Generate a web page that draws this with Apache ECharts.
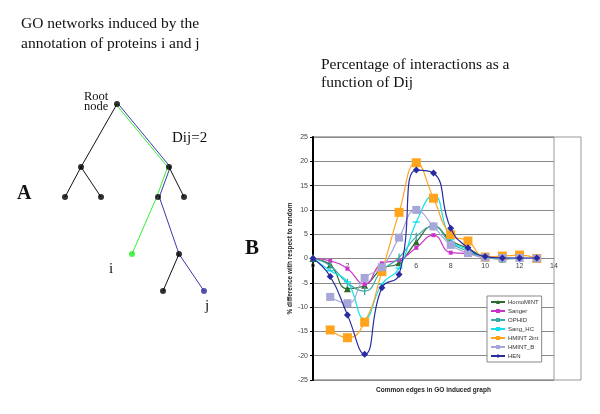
<!DOCTYPE html>
<html><head><meta charset="utf-8">
<script src="https://cdn.jsdelivr.net/npm/echarts@6/dist/echarts.min.js"></script>
<style>html,body{margin:0;padding:0;background:#fff}#c{width:600px;height:414px}</style>
</head><body><div id="c"></div>
<script>
// ---- chart B data ----
var xValues = [0,1,2,3,4,5,6,7,8,9,10,11,12,13];
var seriesNames = ['HomoMINT','Sanger','OPHID','Sang_HC','HMINT 2int','HMINT_B','HEN'];
var homoMINT  = [0,-1.3,-6.2,-5.5,-2.1,-0.9,3.4,6.7,3.7,2.1,0.3,-0.1,0,0];
var sanger    = [0,-0.5,-2.1,-5.3,-1.0,-0.3,2.2,4.8,1.2,1.0,0.2,0,0,0];
var ophid     = [0,-1.5,-5.0,-6.7,-2.5,0.2,4.5,6.6,3.2,1.5,0.2,0,0,0];
var sangHC    = [0,-2.5,-4.8,-12.4,-5.3,-2.0,7.5,13.0,4.0,1.8,0.3,0,0,0];
var hmint2int = [null,-14.7,-16.3,-13.1,-2.7,9.5,19.7,12.4,4.9,3.6,0.3,0.5,0.7,0];
var hmintB    = [null,-7.9,-9.2,-4.0,-1.8,4.3,10.0,6.6,2.8,1.1,0.2,0.1,0.1,0];
var hen       = [0,-3.7,-11.6,-19.7,-6.0,-3.3,18.2,17.6,6.2,2.2,0.4,0.1,0.1,0.1];
var xTicks = {min:0, max:14, interval:2};
var yTicks = {min:-25, max:25, interval:5};

// ---- panel A tree data (layout units) ----
var treeNodes = {
  root:[117,104], L:[81,167], LL:[65,197], LR:[101,197],
  R:[169,167], RL:[158,197], RR:[184,197],
  I:[132,254], RLR:[179,254], RLRL:[163,291], J:[204,291]
};
var blackEdges = [['root','L'],['L','LL'],['L','LR'],['R','RR'],['RLR','RLRL']];
var greenPath = ['root','R','RL','I'];
var bluePath  = ['root','R','RL','RLR','J'];
var sharedNodes = ['root','R','RL'];

var chart = echarts.init(document.getElementById('c'), null, {renderer:'canvas'});

function pairs(vals){ return xValues.map(function(x,i){ return vals[i]==null ? [x,'-'] : [x, vals[i]]; }); }
var serif = 'Liberation Serif';
var sans = 'Liberation Sans';

var styles = [
  {c:'#2f6b2f', sym:'triangle', sz:7},
  {c:'#cc33cc', sym:'rect', sz:4},
  {c:'#3aaaa4', sym:'rect', sz:[1.3,8]},
  {c:'#10e0ee', sym:'rect', sz:[7,1.4]},
  {c:'#ffa41c', sym:'rect', sz:9},
  {c:'#a6a6d8', sym:'rect', sz:8},
  {c:'#2a2aa0', sym:'diamond', sz:7}
];
var dataSets = [homoMINT, sanger, ophid, sangHC, hmint2int, hmintB, hen];

var series = [];
dataSets.forEach(function(d, k){
  series.push({
    name: seriesNames[k], type:'line', xAxisIndex:1, yAxisIndex:1,
    data: pairs(d), smooth:0.5, connectNulls:false,
    symbol: styles[k].sym, symbolSize: styles[k].sz, showSymbol:true,
    lineStyle:{color:styles[k].c, width:1.2}, itemStyle:{color:styles[k].c},
    z: 3 + k, animation:false
  });
});

// tree
function pt(n, off){ var p = treeNodes[n]; var o = (off && sharedNodes.indexOf(n)>=0) ? off : 0; return [p[0]+o, p[1]]; }
blackEdges.forEach(function(e){
  series.push({type:'line', xAxisIndex:0, yAxisIndex:0, data:[pt(e[0]), pt(e[1])], showSymbol:false, symbol:'none',
    lineStyle:{color:'#111', width:1}, animation:false, silent:true});
});
series.push({type:'line', xAxisIndex:0, yAxisIndex:0, data:greenPath.map(function(n){return pt(n,-1.3);}), symbol:'none',
  lineStyle:{color:'#33ee33', width:1}, animation:false, silent:true});
series.push({type:'line', xAxisIndex:0, yAxisIndex:0, data:bluePath.map(function(n){return pt(n,1.3);}), symbol:'none',
  lineStyle:{color:'#3a3aa8', width:1}, animation:false, silent:true});
var nodeData = Object.keys(treeNodes).map(function(n){
  var col = n==='I' ? '#22ee22' : (n==='J' ? '#2c2c99' : '#000');
  return {value: treeNodes[n], itemStyle:{color:col}};
});
series.push({type:'scatter', xAxisIndex:0, yAxisIndex:0, data:nodeData, symbolSize:6, animation:false, silent:true, z:10});

var option = {
  backgroundColor:'#fff',
  animation:false,
  grid:[
    {left:0, top:0, width:600, height:414, show:false},
    {left:313, top:137, width:241, height:243, show:true, borderColor:'#999', borderWidth:1, backgroundColor:'transparent'}
  ],
  xAxis:[
    {gridIndex:0, type:'value', min:0, max:600, show:false},
    {gridIndex:1, type:'value', min:xTicks.min, max:xTicks.max, interval:xTicks.interval,
     position:'bottom', offset:-121.5,
     axisLine:{onZero:false, lineStyle:{color:'#888', width:1}}, axisTick:{show:false},
     splitLine:{show:false}, axisLabel:{fontSize:7, color:'#444', margin:4, fontFamily:sans}}
  ],
  yAxis:[
    {gridIndex:0, type:'value', min:0, max:414, inverse:true, show:false},
    {gridIndex:1, type:'value', min:yTicks.min, max:yTicks.max, interval:yTicks.interval,
     axisLine:{show:true, onZero:false, lineStyle:{color:'#000', width:2}},
     axisTick:{show:true, length:3, lineStyle:{color:'#000'}},
     splitLine:{show:true, lineStyle:{color:'#8a8a8a', width:1}},
     axisLabel:{fontSize:7, color:'#444', margin:5, fontFamily:sans},
     name:'% difference with respect to random', nameLocation:'middle', nameGap:16, nameRotate:90,
     nameTextStyle:{fontSize:6.5, fontWeight:'bold', color:'#222', fontFamily:sans}}
  ],
  legend:{
    data:seriesNames, orient:'vertical', left:487, top:296,
    itemWidth:14, itemHeight:5, itemGap:3, padding:[3,3,3,3],
    backgroundColor:'#fff', borderColor:'#888', borderWidth:1,
    textStyle:{fontSize:6, color:'#333', fontFamily:sans, padding:[0,0,0,-2]}
  },
  graphic:[
    {type:'rect', shape:{x:313, y:137, width:268, height:243}, style:{fill:'none', stroke:'#999', lineWidth:1}, z:-1},
    {type:'text', x:433.5, y:387, style:{text:'Common edges in GO induced graph', font:'bold 6.5px '+sans, fill:'#222', align:'center', verticalAlign:'top'}},
    {type:'text', x:21, y:14, style:{text:'GO networks induced by the\nannotation of proteins i and j', font:'15.5px '+serif, lineHeight:20, fill:'#111', verticalAlign:'top'}},
    {type:'text', x:321, y:56, style:{text:'Percentage of interactions as a\nfunction of Dij', font:'15.5px '+serif, lineHeight:18, fill:'#111', verticalAlign:'top'}},
    {type:'text', x:84, y:92, style:{text:'Root\nnode', font:'12.5px '+serif, lineHeight:10, fill:'#111', verticalAlign:'top'}},
    {type:'text', x:172, y:131, style:{text:'Dij=2', font:'15px '+serif, fill:'#111', verticalAlign:'top'}},
    {type:'text', x:109, y:262, style:{text:'i', font:'15px '+serif, fill:'#111', verticalAlign:'top'}},
    {type:'text', x:205, y:299, style:{text:'j', font:'15px '+serif, fill:'#111', verticalAlign:'top'}},
    {type:'text', x:17, y:184, style:{text:'A', font:'bold 20px '+serif, fill:'#111', verticalAlign:'top'}},
    {type:'text', x:245, y:238, style:{text:'B', font:'bold 21px '+serif, fill:'#111', verticalAlign:'top'}}
  ],
  series:series
};
chart.setOption(option);
</script></body></html>
